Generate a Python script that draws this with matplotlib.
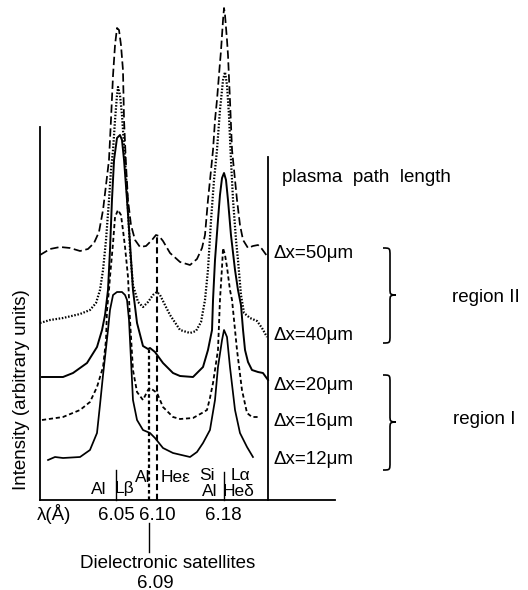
import matplotlib
matplotlib.use("Agg")
import matplotlib.pyplot as plt
from matplotlib.path import Path
from matplotlib.patches import PathPatch
from matplotlib.transforms import Affine2D

plt.rcParams['font.family'] = ['Liberation Sans', 'DejaVu Sans']
plt.rcParams['lines.scale_dashes'] = False

# ---------------- data (wavelength in Angstrom, intensity in arbitrary units, stacked) -------------
lam_50 = [5.9581, 5.9702, 5.9823, 5.9944, 6.0065, 6.0161, 6.0234, 6.0294, 6.0343, 6.0379, 6.0415,
          6.0439, 6.0464, 6.0488, 6.0512, 6.0536, 6.0560, 6.0584, 6.0597, 6.0621, 6.0645, 6.0681,
          6.0730, 6.0790, 6.0863, 6.0935, 6.0983, 6.1020, 6.1068, 6.1153, 6.1274, 6.1395, 6.1479,
          6.1540, 6.1576, 6.1612, 6.1649, 6.1673, 6.1697, 6.1721, 6.1745, 6.1770, 6.1794, 6.1806,
          6.1818, 6.1842, 6.1854, 6.1878, 6.1903, 6.1939, 6.1963, 6.1999, 6.2036, 6.2096, 6.2156,
          6.2217, 6.2265, 6.2326]
int_50 = [24.5, 25.1, 25.3, 25.2, 24.9, 25.1, 25.7, 26.8, 29.0, 31.5, 34.0,
          38.0, 42.5, 45.5, 47.2, 47.0, 45.5, 43.0, 38.0, 33.5, 30.0, 27.5,
          26.0, 25.3, 25.4, 26.0, 26.5, 26.4, 25.9, 24.7, 23.8, 23.5, 24.1,
          25.2, 26.5, 30.0, 33.0, 35.0, 38.0, 40.0, 42.5, 45.0, 48.0, 49.2,
          48.5, 46.0, 44.5, 40.0, 35.0, 32.0, 30.0, 27.5, 26.0, 25.2, 25.4,
          25.5, 25.1, 24.4]

lam_40 = [5.9581, 5.9702, 5.9859, 6.0065, 6.0185, 6.0258, 6.0306, 6.0343, 6.0379, 6.0415, 6.0439,
          6.0464, 6.0488, 6.0512, 6.0524, 6.0548, 6.0572, 6.0609, 6.0645, 6.0669, 6.0705, 6.0766,
          6.0826, 6.0887, 6.0947, 6.0996, 6.1032, 6.1092, 6.1153, 6.1274, 6.1395, 6.1467, 6.1528,
          6.1576, 6.1612, 6.1649, 6.1685, 6.1721, 6.1757, 6.1794, 6.1818, 6.1842, 6.1866, 6.1890,
          6.1915, 6.1951, 6.1975, 6.2011, 6.2048, 6.2120, 6.2205, 6.2265, 6.2326]
int_40 = [17.7, 18.0, 18.2, 18.6, 19.0, 19.7, 21.0, 23.0, 26.0, 30.0, 33.0,
          35.0, 38.0, 40.5, 41.3, 40.5, 38.5, 34.0, 29.0, 25.0, 21.5, 19.8,
          19.3, 19.8, 20.5, 20.8, 20.5, 19.5, 18.5, 17.0, 16.7, 16.9, 17.8,
          20.0, 23.0, 28.0, 32.0, 35.0, 39.0, 42.0, 42.8, 41.5, 38.5, 34.0,
          30.0, 26.0, 24.0, 20.5, 18.7, 18.2, 17.9, 17.2, 16.3]

lam_20 = [5.9605, 5.9859, 5.9980, 6.0149, 6.0270, 6.0331, 6.0367, 6.0403, 6.0427, 6.0451, 6.0476,
          6.0512, 6.0548, 6.0572, 6.0597, 6.0633, 6.0669, 6.0705, 6.0754, 6.0826, 6.0887, 6.0911,
          6.0971, 6.1068, 6.1189, 6.1274, 6.1431, 6.1552, 6.1612, 6.1661, 6.1673, 6.1697, 6.1733,
          6.1757, 6.1782, 6.1806, 6.1830, 6.1854, 6.1890, 6.1939, 6.1975, 6.2011, 6.2036, 6.2060,
          6.2096, 6.2144, 6.2217, 6.2277, 6.2338]
int_20 = [12.3, 12.3, 12.7, 13.7, 15.3, 17.0, 18.5, 21.0, 25.0, 30.0, 34.0,
          36.2, 36.5, 36.0, 34.0, 30.0, 25.7, 21.0, 17.7, 15.4, 15.1, 15.2,
          14.8, 13.7, 12.7, 12.4, 12.3, 13.3, 15.0, 17.0, 20.0, 24.0, 28.0,
          30.5, 32.2, 32.7, 32.0, 30.0, 26.5, 23.0, 21.0, 19.5, 17.0, 15.0,
          13.8, 13.0, 12.8, 12.7, 12.0]

lam_16 = [5.9605, 5.9859, 6.0065, 6.0185, 6.0270, 6.0343, 6.0379, 6.0391, 6.0415, 6.0427, 6.0464,
          6.0488, 6.0524, 6.0560, 6.0584, 6.0609, 6.0645, 6.0669, 6.0705, 6.0754, 6.0826, 6.0887,
          6.0911, 6.0947, 6.0996, 6.1068, 6.1189, 6.1274, 6.1431, 6.1540, 6.1600, 6.1636, 6.1673,
          6.1733, 6.1757, 6.1782, 6.1794, 6.1818, 6.1842, 6.1878, 6.1903, 6.1963, 6.2023, 6.2084,
          6.2144, 6.2217]
int_16 = [8.0, 8.3, 9.0, 9.8, 11.3, 13.3, 16.0, 19.0, 21.0, 22.3, 25.7,
          28.3, 29.0, 28.5, 27.0, 25.3, 22.3, 18.0, 13.0, 10.8, 10.0, 11.0,
          11.2, 11.0, 10.7, 9.3, 8.3, 8.1, 8.2, 8.7, 9.0, 10.2, 11.7,
          15.0, 20.0, 23.3, 25.2, 24.5, 23.3, 21.0, 20.0, 15.0, 11.0, 8.7,
          8.3, 8.3]

lam_12 = [5.9678, 5.9762, 5.9859, 6.0065, 6.0185, 6.0270, 6.0306, 6.0343, 6.0367, 6.0403, 6.0427,
          6.0464, 6.0512, 6.0572, 6.0609, 6.0633, 6.0657, 6.0669, 6.0693, 6.0705, 6.0754, 6.0826,
          6.0911, 6.0971, 6.1068, 6.1189, 6.1395, 6.1479, 6.1552, 6.1636, 6.1697, 6.1733, 6.1782,
          6.1806, 6.1842, 6.1878, 6.1939, 6.1999, 6.2084, 6.2156]
int_12 = [4.0, 4.3, 4.2, 4.3, 5.0, 6.7, 9.5, 12.5, 14.3, 17.0, 19.0,
          20.5, 20.8, 20.8, 20.5, 20.0, 18.0, 16.0, 12.0, 10.0, 8.0, 7.0,
          6.7, 6.2, 5.2, 4.7, 4.3, 4.8, 5.7, 7.0, 10.0, 13.3, 16.0,
          17.0, 16.3, 13.3, 9.0, 6.7, 5.3, 4.3]

path_labels = ["Δx=50μm", "Δx=40μm", "Δx=20μm", "Δx=16μm", "Δx=12μm"]

tick_vals = [6.05, 6.10, 6.18]
tick_labels = ["6.05", "6.10", "6.18"]

# line identifications: wavelength, top of marker line (intensity)
lb_lam, lb_top = 6.05, 3.0          # Al L-beta
sat_lam, sat_top = 6.09, 15.2       # dielectronic satellites
hee_lam, hee_top = 6.10, 26.4       # He-epsilon
la_lam, la_top = 6.18, 2.8          # Si / Al L-alpha, He-delta

# ---------------- figure --------------------------------------------------------------------
W, H = 528, 590
fig = plt.figure(figsize=(W / 100, H / 100), dpi=100)
ax = fig.add_axes([0, 0, 1, 1])
ax.set_xlim(5.9097, 6.5482)
ax.set_ylim(-9.0, 50.0)
ax.patch.set_alpha(0)

# pixel transform (origin top-left) for annotation placement
P = Affine2D().scale(1 / W, -1 / H).translate(0, 1) + fig.transFigure

lw = 1.25
ax.plot(lam_50, int_50, color='black', lw=lw, linestyle=(0, (6.0, 2.6)))
ax.plot(lam_40, int_40, color='black', lw=1.6, linestyle=(0, (1.1, 1.2)))
ax.plot(lam_20, int_20, color='black', lw=1.4, linestyle='-')
ax.plot(lam_16, int_16, color='black', lw=1.3, linestyle=(0, (3.0, 2.0)))
ax.plot(lam_12, int_12, color='black', lw=lw, linestyle='-')

# identification lines
ax.plot([lb_lam, lb_lam], [0, lb_top], color='black', lw=1.0)
ax.plot([la_lam, la_lam], [0, la_top], color='black', lw=1.0)
ax.plot([hee_lam, hee_lam], [0, hee_top], color='black', lw=1.5, linestyle=(0, (4.5, 2.6)))
ax.plot([sat_lam, sat_lam], [0, sat_top], color='black', lw=1.6, linestyle=(0, (2.6, 2.0)))
ax.plot([sat_lam, sat_lam], [-2.3, -5.2], color='black', lw=1.0, clip_on=False)

# axes frame
x_left = 5.9581
ax.spines['top'].set_visible(False)
ax.spines['right'].set_visible(False)
ax.spines['left'].set_position(('data', x_left))
ax.spines['left'].set_bounds(0, 37.3)
ax.spines['bottom'].set_position(('data', 0))
ax.spines['bottom'].set_bounds(x_left, 6.3148)
for s in ('left', 'bottom'):
    ax.spines[s].set_linewidth(1.3)
ax.plot([6.2338, 6.2338], [0, 34.3], color='black', lw=1.3)

ax.set_yticks([])
ax.set_xticks(tick_vals)
ax.set_xticklabels(tick_labels)
ax.tick_params(axis='x', length=0, pad=5, labelsize=13.5)

fs = 13.5
def txt(x, y, s, ha='center', va='center', **kw):
    return ax.text(x, y, s, transform=P, fontsize=kw.pop('fontsize', fs), ha=ha, va=va, **kw)

txt(54, 514, "λ(Å)")
txt(22, 390, "Intensity (arbitrary units)", rotation=90)
sm = 12.5
txt(99, 489, "Al", fontsize=sm)
txt(125, 489, "Lβ", fontsize=sm)
txt(143, 477, "Al", fontsize=sm)
txt(176, 477, "Heε", fontsize=sm)
txt(207, 476, "Si", fontsize=sm)
txt(241, 476, "Lα", fontsize=sm)
txt(210, 492, "Al", fontsize=sm)
txt(239, 492, "Heδ", fontsize=sm)
txt(168, 563, "Dielectronic satellites")
txt(155, 583, "6.09")
txt(282, 177, "plasma  path  length", ha='left')
for lab, y in zip(path_labels, [253, 335, 385, 422, 459]):
    txt(273, y, lab, ha='left')
txt(486, 297, "region II")
txt(484, 420, "region I")

def brace(y0, y1, ym, xh=383, xm=390, xt=396):
    verts = [(xh, y0), (xm, y0), (xm, y0), (xm, y0 + 8),
             (xm, ym - 6),
             (xm, ym - 1), (xm, ym), (xt, ym),
             (xm, ym), (xm, ym + 1), (xm, ym + 6),
             (xm, y1 - 8),
             (xm, y1), (xm, y1), (xh, y1)]
    codes = [Path.MOVETO, Path.CURVE4, Path.CURVE4, Path.CURVE4,
             Path.LINETO,
             Path.CURVE4, Path.CURVE4, Path.CURVE4,
             Path.CURVE4, Path.CURVE4, Path.CURVE4,
             Path.LINETO,
             Path.CURVE4, Path.CURVE4, Path.CURVE4]
    ax.add_patch(PathPatch(Path(verts, codes), transform=P, fill=False, lw=1.2,
                           edgecolor='black', clip_on=False))

brace(248, 343, 295)
brace(375, 470, 422)

fig.savefig("out.png", dpi=100, facecolor='white')
